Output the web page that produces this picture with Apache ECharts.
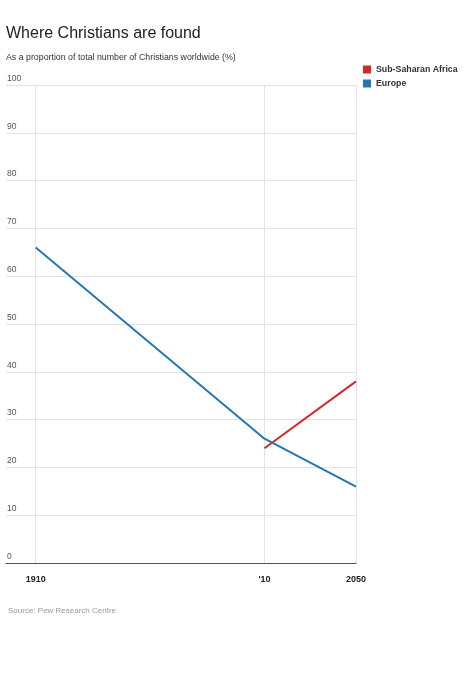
<!DOCTYPE html>
<html>
<head>
<meta charset="utf-8">
<script src="https://cdn.jsdelivr.net/npm/echarts@6/dist/echarts.min.js"></script>
<style>
html,body{margin:0;padding:0;background:#fff;}
#c{width:468px;height:687px;}
</style>
</head>
<body>
<div id="c"></div>
<script>
var years = [1910, 2010, 2050];
var tickYears = [1910, 2010, 2050];
var tickLabels = ['1910', "'10", '2050'];
var europe = [66, 26, 16];
var africa = [null, 24, 38];
var yTicks = [0, 10, 20, 30, 40, 50, 60, 70, 80, 90, 100];

var chart = echarts.init(document.getElementById('c'));
var font = '"Liberation Sans", Arial, Helvetica, sans-serif';
function pairs(vals){
  var out = [];
  for (var i = 0; i < years.length; i++) if (vals[i] != null) out.push([years[i], vals[i]]);
  return out;
}
chart.setOption({
  animation: false,
  textStyle: {fontFamily: font},
  title: [{
    text: 'Where Christians are found',
    left: 6, top: 26, padding: 0,
    textStyle: {fontSize: 16, fontWeight: 'normal', color: '#222', fontFamily: font}
  }, {
    text: 'As a proportion of total number of Christians worldwide (%)',
    left: 6, top: 53, padding: 0,
    textStyle: {fontSize: 8.8, fontWeight: 'normal', color: '#333', fontFamily: font}
  }, {
    text: 'Source: Pew Research Centre',
    left: 8, top: 607, padding: 0,
    textStyle: {fontSize: 8, fontWeight: 'normal', color: '#999', fontFamily: font}
  }],
  legend: {
    orient: 'vertical',
    left: 363, top: 65, padding: 0,
    itemWidth: 8, itemHeight: 8, itemGap: 5,
    icon: 'rect',
    textStyle: {fontSize: 8.8, fontWeight: 'bold', color: '#333', fontFamily: font},
    data: ['Sub-Saharan Africa', 'Europe']
  },
  grid: {left: 6, right: 112, top: 85, bottom: 124},
  xAxis: {
    type: 'value',
    min: 1897, max: 2050,
    axisLine: {show: true, lineStyle: {color: '#555', width: 1}},
    axisTick: {show: false},
    splitLine: {show: false},
    axisLabel: {
      customValues: tickYears,
      formatter: function(v){ return tickLabels[tickYears.indexOf(v)]; },
      fontSize: 9, fontWeight: 'bold', color: '#222', margin: 12, fontFamily: font
    }
  },
  yAxis: {
    type: 'value',
    min: 0, max: 100, interval: 10,
    axisLine: {show: false},
    axisTick: {show: false},
    splitLine: {show: true, lineStyle: {color: '#e3e3e3', width: 1}},
    axisLabel: {
      inside: true, margin: 1,
      verticalAlign: 'bottom', align: 'left',
      padding: [0, 0, 2, 0],
      fontSize: 8.5, color: '#555', fontFamily: font,
      showMaxLabel: true
    }
  },
  series: [{
    name: 'Sub-Saharan Africa',
    type: 'line',
    data: pairs(africa),
    symbol: 'none',
    lineStyle: {color: '#d5272e', width: 2},
    itemStyle: {color: '#d5272e'},
    z: 3
  }, {
    name: 'Europe',
    type: 'line',
    data: pairs(europe),
    symbol: 'none',
    lineStyle: {color: '#2477b2', width: 2},
    itemStyle: {color: '#2477b2'},
    z: 4,
    markLine: {
      silent: true,
      symbol: 'none',
      label: {show: false},
      lineStyle: {color: '#e3e3e3', width: 1, type: 'solid'},
      z: 1,
      data: tickYears.map(function(y){ return {xAxis: y}; })
    }
  }]
});
</script>
</body>
</html>
